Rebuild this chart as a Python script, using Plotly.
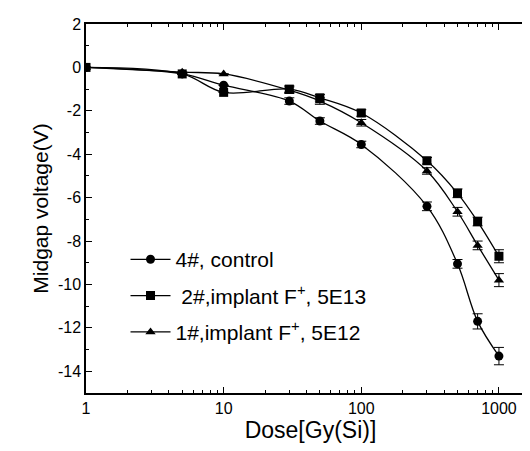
import plotly.graph_objects as go

dose = [1, 5, 10, 30, 50, 100, 300, 500, 700, 1000]
control_4 = [0, -0.3, -0.82, -1.55, -2.47, -3.55, -6.4, -9.05, -11.7, -13.3]
implant_2 = [0, -0.3, -1.15, -1.0, -1.4, -2.1, -4.3, -5.8, -7.1, -8.7]
implant_1 = [0, -0.22, -0.3, -1.05, -1.55, -2.55, -4.77, -6.65, -8.2, -9.8]
err_4 = [0, 0, 0, 0.15, 0.15, 0.15, 0.2, 0.2, 0.35, 0.4]
err_2 = [0, 0, 0, 0.15, 0.15, 0.15, 0.15, 0.2, 0.2, 0.3]
err_1 = [0, 0, 0, 0.15, 0.15, 0.15, 0.15, 0.2, 0.2, 0.3]
names = ["4#, control", " 2#,implant F<sup>+</sup>, 5E13", "1#,implant F<sup>+</sup>, 5E12"]
symbols = ["circle", "square", "triangle-up"]
y_ticks = [2, 0, -2, -4, -6, -8, -10, -12, -14]
x_ticks = [1, 10, 100, 1000]

fig = go.Figure()
for i, (ys, es) in enumerate([(control_4, err_4), (implant_2, err_2), (implant_1, err_1)]):
    fig.add_trace(go.Scatter(
        x=dose, y=ys, name=names[i], mode="lines+markers",
        line=dict(color="black", width=1.3, shape="spline", smoothing=1.0),
        marker=dict(symbol=symbols[i], size=9, color="black"),
        error_y=dict(type="data", array=es, color="black", thickness=1, width=5),
        legendgroup=str(i),
    ))

font_family = "Liberation Sans, Arial, sans-serif"
fig.update_layout(
    width=530, height=451,
    margin=dict(l=78, r=1, t=16, b=66),
    paper_bgcolor="white", plot_bgcolor="white",
    font=dict(family=font_family, color="black", size=16),
    showlegend=True,
    legend=dict(x=0.088, y=0.417, xanchor="left", yanchor="top",
                bgcolor="rgba(0,0,0,0)", font=dict(size=21),
                tracegroupgap=6, traceorder="grouped", itemwidth=40),
    xaxis=dict(type="log", range=[0, 3.262],
               tickvals=x_ticks, ticktext=[str(v) for v in x_ticks],
               ticks="inside", ticklen=6, tickwidth=1, tickcolor="black",
               minor=dict(ticks="inside", ticklen=3, dtick="D1", tickcolor="black"),
               showline=True, linecolor="black", linewidth=1.5, mirror="ticks",
               showgrid=False, zeroline=False,
               tickfont=dict(size=16),
               title=dict(text="Dose[Gy(Si)]", font=dict(size=23), standoff=6)),
    yaxis=dict(range=[-15, 2],
               tickvals=y_ticks, ticktext=[str(v) for v in y_ticks],
               ticks="inside", ticklen=6, tickwidth=1, tickcolor="black",
               minor=dict(ticks="inside", ticklen=3, dtick=1, tickcolor="black"),
               showline=True, linecolor="black", linewidth=1.5, mirror="ticks",
               showgrid=False, zeroline=False,
               tickfont=dict(size=16),
               title=dict(text="Midgap voltage(V)", font=dict(size=21), standoff=4)),
)

fig.write_html("out.html")
